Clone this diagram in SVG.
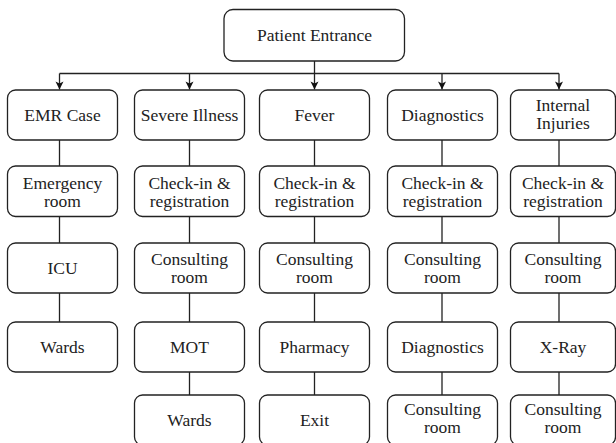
<svg xmlns="http://www.w3.org/2000/svg" width="616" height="443" viewBox="0 0 616 443">
<defs>
<style>
rect.n{fill:#fff;stroke:#222;stroke-width:1.3}
text{font-family:'Liberation Serif','Times New Roman',serif;font-size:17.5px;fill:#222;text-anchor:middle}
.c line,.c path{stroke:#222;stroke-width:1.3;fill:none}
</style>
<marker id="ah" markerUnits="userSpaceOnUse" markerWidth="10" markerHeight="10" viewBox="0 0 10 10" refX="9" refY="5" orient="auto">
<path d="M1,1 L9,5 L1,9 L3,5 z" fill="#111" stroke="none"/>
</marker>
</defs>
<rect width="616" height="443" fill="#fff"/>
<g class="c" id="connectors">
<line x1="314.5" y1="61" x2="314.5" y2="73.5"/>
<line x1="59.5" y1="73.5" x2="559" y2="73.5"/>
<line x1="59.5" y1="73.5" x2="59.5" y2="89.5" marker-end="url(#ah)"/>
<line x1="189.5" y1="73.5" x2="189.5" y2="89.5" marker-end="url(#ah)"/>
<line x1="314.5" y1="73.5" x2="314.5" y2="89.5" marker-end="url(#ah)"/>
<line x1="442" y1="73.5" x2="442" y2="89.5" marker-end="url(#ah)"/>
<line x1="559" y1="73.5" x2="559" y2="89.5" marker-end="url(#ah)"/>
<path d="M59.5,140V166M59.5,216.5V243M59.5,293V322"/>
<path d="M189.5,140V166M189.5,216.5V243M189.5,293V322M189.5,372V395"/>
<path d="M314.5,140V166M314.5,216.5V243M314.5,293V322M314.5,372V395"/>
<path d="M442,140V166M442,216.5V243M442,293V322M442,372V395"/>
<path d="M559,140V166M559,216.5V243M559,293V322M559,372V395"/>
</g>
<g id="patient-entrance"><rect class="n" x="224" y="9.5" width="180.5" height="51.5" rx="9"/><text x="314.5" y="41">Patient Entrance</text></g>

<g id="emr-case"><rect class="n" x="7.5" y="90" width="110" height="50" rx="8"/><text x="62.5" y="121">EMR Case</text></g>
<g id="severe-illness"><rect class="n" x="134.5" y="90" width="110" height="50" rx="8"/><text x="189.5" y="121">Severe Illness</text></g>
<g id="fever"><rect class="n" x="259.5" y="90" width="110" height="50" rx="8"/><text x="314.5" y="121">Fever</text></g>
<g id="diagnostics"><rect class="n" x="387.5" y="90" width="110" height="50" rx="8"/><text x="442.5" y="121">Diagnostics</text></g>
<g id="internal-injuries"><rect class="n" x="510.5" y="90" width="105" height="50" rx="8"/><text x="563" y="111">Internal</text><text x="563" y="129">Injuries</text></g>

<g id="emergency-room"><rect class="n" x="7.5" y="166" width="110" height="50.5" rx="8"/><text x="62.5" y="188.5">Emergency</text><text x="62.5" y="206.5">room</text></g>
<g id="checkin-2"><rect class="n" x="134.5" y="166" width="110" height="50.5" rx="8"/><text x="189.5" y="188.5">Check-in &amp;</text><text x="189.5" y="206.5">registration</text></g>
<g id="checkin-3"><rect class="n" x="259.5" y="166" width="110" height="50.5" rx="8"/><text x="314.5" y="188.5">Check-in &amp;</text><text x="314.5" y="206.5">registration</text></g>
<g id="checkin-4"><rect class="n" x="387.5" y="166" width="110" height="50.5" rx="8"/><text x="442.5" y="188.5">Check-in &amp;</text><text x="442.5" y="206.5">registration</text></g>
<g id="checkin-5"><rect class="n" x="510.5" y="166" width="105" height="50.5" rx="8"/><text x="563" y="188.5">Check-in &amp;</text><text x="563" y="206.5">registration</text></g>

<g id="icu"><rect class="n" x="7.5" y="243" width="110" height="50" rx="8"/><text x="62.5" y="274">ICU</text></g>
<g id="consulting-2"><rect class="n" x="134.5" y="243" width="110" height="50" rx="8"/><text x="189.5" y="265">Consulting</text><text x="189.5" y="283">room</text></g>
<g id="consulting-3"><rect class="n" x="259.5" y="243" width="110" height="50" rx="8"/><text x="314.5" y="265">Consulting</text><text x="314.5" y="283">room</text></g>
<g id="consulting-4"><rect class="n" x="387.5" y="243" width="110" height="50" rx="8"/><text x="442.5" y="265">Consulting</text><text x="442.5" y="283">room</text></g>
<g id="consulting-5"><rect class="n" x="510.5" y="243" width="105" height="50" rx="8"/><text x="563" y="265">Consulting</text><text x="563" y="283">room</text></g>

<g id="wards-1"><rect class="n" x="7.5" y="322" width="110" height="50" rx="8"/><text x="62.5" y="353">Wards</text></g>
<g id="mot"><rect class="n" x="134.5" y="322" width="110" height="50" rx="8"/><text x="189.5" y="353">MOT</text></g>
<g id="pharmacy"><rect class="n" x="259.5" y="322" width="110" height="50" rx="8"/><text x="314.5" y="353">Pharmacy</text></g>
<g id="diagnostics-2"><rect class="n" x="387.5" y="322" width="110" height="50" rx="8"/><text x="442.5" y="353">Diagnostics</text></g>
<g id="xray"><rect class="n" x="510.5" y="322" width="105" height="50" rx="8"/><text x="563" y="353">X-Ray</text></g>

<g id="wards-2"><rect class="n" x="134.5" y="395" width="110" height="50" rx="8"/><text x="189.5" y="426">Wards</text></g>
<g id="exit"><rect class="n" x="259.5" y="395" width="110" height="50" rx="8"/><text x="314.5" y="426">Exit</text></g>
<g id="consulting-4b"><rect class="n" x="387.5" y="395" width="110" height="50" rx="8"/><text x="442.5" y="415">Consulting</text><text x="442.5" y="433">room</text></g>
<g id="consulting-5b"><rect class="n" x="510.5" y="395" width="105" height="50" rx="8"/><text x="563" y="415">Consulting</text><text x="563" y="433">room</text></g>
</svg>
